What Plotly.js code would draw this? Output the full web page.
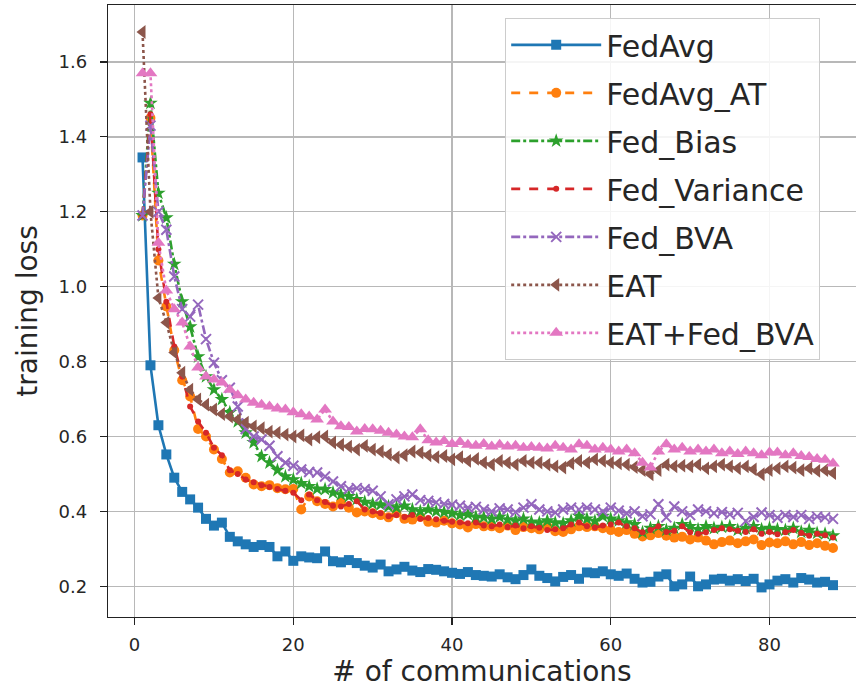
<!DOCTYPE html>
<html>
<head>
<meta charset="utf-8">
<script src="https://cdn.plot.ly/plotly-3.0.1.min.js"></script>
<style>html,body{margin:0;padding:0;background:#fff;}#chart{width:856px;height:694px;}</style>
</head>
<body>
<div id="chart"></div>
<script>
// communication rounds 1..88
const rounds = Array.from({length: 88}, (_, i) => i + 1);

const fedAvg = [1.345,0.79,0.63,0.552,0.49,0.452,0.432,0.41,0.38,0.362,0.37,0.332,0.32,0.312,0.305,0.31,0.305,0.28,0.293,0.268,
0.28,0.277,0.275,0.293,0.267,0.264,0.27,0.262,0.255,0.25,0.258,0.24,0.245,0.252,0.242,0.238,0.246,0.244,0.24,0.236,
0.233,0.238,0.23,0.228,0.226,0.232,0.224,0.219,0.23,0.245,0.228,0.222,0.213,0.225,0.23,0.22,0.237,0.235,0.24,0.232,
0.228,0.234,0.22,0.21,0.212,0.226,0.232,0.2,0.205,0.226,0.2,0.205,0.218,0.22,0.215,0.219,0.214,0.22,0.197,0.205,
0.215,0.219,0.21,0.222,0.218,0.21,0.212,0.203];

const fedAvgAT = [1.19,1.45,1.07,0.947,0.83,0.75,0.707,0.62,0.6,0.565,0.54,0.504,0.507,0.49,0.472,0.467,0.47,0.462,0.459,0.46,
0.405,0.44,0.427,0.42,0.413,0.424,0.41,0.397,0.4,0.395,0.39,0.384,0.395,0.38,0.378,0.385,0.372,0.37,0.375,0.368,
0.365,0.357,0.366,0.36,0.36,0.355,0.362,0.35,0.358,0.355,0.352,0.36,0.347,0.345,0.352,0.36,0.358,0.36,0.355,0.35,
0.345,0.35,0.34,0.333,0.336,0.342,0.335,0.33,0.332,0.325,0.33,0.322,0.312,0.318,0.322,0.315,0.32,0.325,0.31,0.317,
0.315,0.32,0.312,0.318,0.31,0.315,0.308,0.302];

const fedBias = [1.19,1.49,1.25,1.184,1.06,0.96,0.893,0.813,0.76,0.725,0.699,0.664,0.64,0.61,0.584,0.547,0.53,0.51,0.493,0.485,
0.475,0.467,0.46,0.459,0.45,0.445,0.44,0.432,0.425,0.42,0.418,0.413,0.41,0.415,0.405,0.4,0.405,0.4,0.398,0.395,
0.39,0.392,0.385,0.384,0.38,0.385,0.378,0.375,0.38,0.372,0.37,0.375,0.37,0.368,0.375,0.387,0.38,0.374,0.387,0.38,
0.375,0.37,0.365,0.344,0.355,0.36,0.35,0.355,0.365,0.36,0.352,0.36,0.355,0.358,0.36,0.35,0.355,0.36,0.352,0.355,
0.352,0.35,0.355,0.345,0.35,0.342,0.34,0.335];

const fedVariance = [1.19,1.46,1.10,0.96,0.84,0.76,0.68,0.64,0.61,0.57,0.55,0.51,0.5,0.485,0.478,0.47,0.465,0.46,0.455,0.45,
0.43,0.445,0.43,0.425,0.415,0.413,0.42,0.427,0.405,0.4,0.395,0.387,0.39,0.385,0.39,0.38,0.382,0.379,0.375,0.372,
0.37,0.368,0.37,0.362,0.36,0.365,0.358,0.362,0.355,0.36,0.356,0.35,0.352,0.355,0.365,0.37,0.36,0.357,0.362,0.365,
0.37,0.36,0.355,0.344,0.35,0.36,0.345,0.348,0.36,0.344,0.34,0.344,0.35,0.355,0.352,0.348,0.345,0.352,0.34,0.345,
0.339,0.344,0.35,0.342,0.335,0.34,0.336,0.33];

const fedBVA = [1.19,1.43,1.20,1.152,1.027,0.94,0.92,0.952,0.86,0.797,0.75,0.73,0.68,0.62,0.6,0.592,0.575,0.547,0.53,0.522,
0.512,0.505,0.504,0.493,0.48,0.467,0.46,0.462,0.459,0.455,0.44,0.419,0.432,0.44,0.445,0.43,0.428,0.424,0.42,0.418,
0.415,0.41,0.412,0.405,0.4,0.408,0.405,0.398,0.41,0.419,0.405,0.4,0.397,0.405,0.41,0.405,0.41,0.405,0.4,0.41,
0.402,0.395,0.4,0.387,0.392,0.419,0.384,0.413,0.4,0.39,0.405,0.4,0.395,0.398,0.392,0.396,0.374,0.385,0.397,0.39,
0.383,0.39,0.385,0.39,0.38,0.386,0.384,0.38];

const eat = [1.68,1.20,0.97,0.904,0.824,0.77,0.725,0.699,0.685,0.672,0.66,0.653,0.645,0.637,0.627,0.622,0.613,0.61,0.605,0.6,
0.603,0.592,0.598,0.6,0.584,0.578,0.573,0.565,0.575,0.565,0.56,0.552,0.544,0.55,0.56,0.557,0.55,0.545,0.548,0.539,
0.545,0.535,0.54,0.53,0.525,0.535,0.53,0.525,0.535,0.53,0.53,0.525,0.52,0.517,0.528,0.535,0.53,0.539,0.535,0.53,
0.528,0.525,0.518,0.51,0.499,0.51,0.525,0.52,0.522,0.52,0.525,0.515,0.52,0.525,0.52,0.515,0.52,0.512,0.499,0.51,
0.515,0.52,0.517,0.51,0.515,0.508,0.51,0.502];

const eatFedBVA = [1.57,1.57,1.117,0.99,0.94,0.904,0.84,0.784,0.76,0.752,0.744,0.725,0.71,0.699,0.69,0.685,0.68,0.675,0.672,0.665,
0.659,0.653,0.645,0.672,0.64,0.627,0.625,0.613,0.62,0.619,0.615,0.61,0.605,0.6,0.598,0.619,0.59,0.584,0.588,0.58,
0.585,0.578,0.575,0.58,0.573,0.578,0.573,0.575,0.57,0.572,0.57,0.568,0.575,0.57,0.565,0.579,0.575,0.565,0.57,0.565,
0.56,0.565,0.555,0.53,0.517,0.56,0.579,0.565,0.57,0.56,0.565,0.56,0.565,0.555,0.56,0.553,0.56,0.555,0.55,0.557,
0.557,0.55,0.555,0.548,0.545,0.54,0.538,0.528];

const seriesNames = ['FedAvg','FedAvg_AT','Fed_Bias','Fed_Variance','Fed_BVA','EAT','EAT+Fed_BVA'];
const seriesValues = [fedAvg, fedAvgAT, fedBias, fedVariance, fedBVA, eat, eatFedBVA];
const colors = ['#1f77b4','#ff7f0e','#2ca02c','#d62728','#9467bd','#8c564b','#e377c2'];
const dashes = ['solid','dash','dashdot','dash','dashdot','dot','dot'];
const symbols = ['square','circle','star','circle','x-thin-open','triangle-left','triangle-up'];
const sizes = [10,10,11,6,10,12,12];

const traces = seriesNames.map((n, i) => ({
  x: rounds, y: seriesValues[i], name: n, type: 'scatter', mode: 'lines+markers',
  legendgroup: 'g' + i,
  line: {color: colors[i], width: 2.6, dash: dashes[i]},
  marker: {color: colors[i], symbol: symbols[i], size: sizes[i],
           line: {color: colors[i], width: symbols[i] === 'x-thin-open' ? 2 : 0}}
}));

const layout = {
  width: 856, height: 694,
  margin: {l: 108, r: 0, t: 5, b: 77},
  paper_bgcolor: '#fff', plot_bgcolor: '#fff',
  font: {family: 'DejaVu Sans, sans-serif', color: '#262626'},
  showlegend: true,
  legend: {x: 0.531, y: 0.979, xanchor: 'left', yanchor: 'top',
    bgcolor: 'rgba(255,255,255,0.85)', bordercolor: '#cccccc', borderwidth: 1,
    font: {size: 30, color: '#262626'}, itemwidth: 90, tracegroupgap: 6},
  xaxis: {range: [-3.35, 90.9], tickvals: [0,20,40,60,80], ticktext: ['0','20','40','60','80'],
    showgrid: true, gridcolor: '#b8b8b8', gridwidth: 1.4, zeroline: false,
    showline: true, linecolor: '#222', linewidth: 1.3, mirror: true,
    ticks: 'outside', ticklen: 7, tickwidth: 1.3, tickcolor: '#222', ticklabelstandoff: 4,
    tickfont: {size: 18, color: '#262626'},
    title: {text: '# of communications', font: {size: 28, color: '#262626'}, standoff: 6}},
  yaxis: {range: [0.118, 1.752], tickvals: [0.2,0.4,0.6,0.8,1.0,1.2,1.4,1.6],
    ticktext: ['0.2','0.4','0.6','0.8','1.0','1.2','1.4','1.6'],
    showgrid: true, gridcolor: '#b8b8b8', gridwidth: 1.4, zeroline: false,
    showline: true, linecolor: '#222', linewidth: 1.3, mirror: false,
    ticks: 'outside', ticklen: 7, tickwidth: 1.3, tickcolor: '#222', ticklabelstandoff: 9,
    tickfont: {size: 18, color: '#262626'},
    title: {text: 'training loss', font: {size: 28, color: '#262626'}, standoff: 12}}
};

Plotly.newPlot('chart', traces, layout, {displayModeBar: false, staticPlot: true});
</script>
</body>
</html>
